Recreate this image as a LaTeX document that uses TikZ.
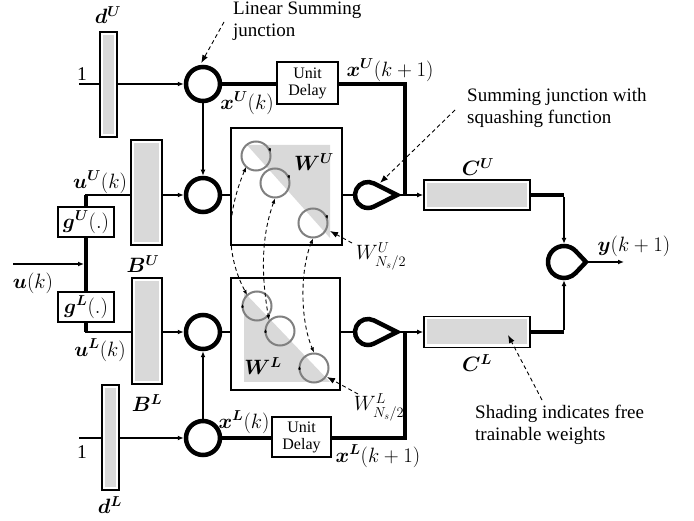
\documentclass[tikz,border=0pt]{standalone}
\usepackage{fontspec}
\setmainfont{Liberation Serif}
\usepackage{amsmath,bm}
\usetikzlibrary{arrows.meta,calc}
\definecolor{shadegray}{HTML}{D9D9D9}
\definecolor{ringgray}{HTML}{808080}
\newcommand\teardrop[5]{% name, center, r, d, theta
  \node[circle, minimum size=#3*2pt, inner sep=0pt] (#1) at (#2) {};
  \draw[bus, line join=miter] ($(#1)+(#4pt,0pt)$) -- ($(#1)+(#5:#3pt)$)
     arc[start angle=#5, end angle=360-#5, radius=#3pt] -- cycle;
  \coordinate (#1tip) at ($(#1)+(#4pt,0pt)$);
}
\begin{document}
\begin{tikzpicture}[x=1pt,y=-1pt,
  wire/.style={line width=1.5pt},
  bus/.style={line width=4.5pt},
  arr/.style={-{Latex[length=6pt,width=5pt]}},
  sumj/.style={circle, draw, line width=4.5pt, minimum size=34pt, inner sep=0pt},
  bar/.style={draw, line width=1.6pt, fill=white, inner sep=0pt,
    path picture={\fill[shadegray] ([shift={(3pt,-3pt)}]path picture bounding box.north west)
      rectangle ([shift={(-3pt,3pt)}]path picture bounding box.south east);}},
  gbox/.style={draw, line width=2pt, fill=white, minimum width=56pt, minimum height=30pt, inner sep=0pt,
    font=\fontsize{22}{24}\selectfont},
  delay/.style={draw, line width=2pt, fill=white, inner sep=0pt, align=center,
    font=\fontsize{16}{17}\selectfont},
  wbox/.style={draw, line width=2pt, inner sep=0pt},
  ring/.style={circle, draw=ringgray, line width=2pt, minimum size=29pt, inner sep=0pt},
  lbl/.style={inner sep=0pt, font=\fontsize{19.5}{22}\selectfont},
  note/.style={align=left, inner sep=0pt, font=\fontsize{19}{22}\selectfont},
  dashln/.style={dashed, line width=0.9pt, dash pattern=on 4pt off 3pt},
  noteArr/.style={dashed, line width=0.9pt, dash pattern=on 4pt off 3pt, -{Latex[length=8pt,width=6pt]}},
  tinyarr/.style={line width=0.5pt, -{Latex[length=3.5pt,width=3pt]}},
  twoway/.style={{Latex[length=5pt,width=4pt]}-{Latex[length=5pt,width=4pt]}},
]
\useasboundingbox (0,0) rectangle (694,521);

% ---------------- W boxes with shading and rings
\node[wbox, minimum width=111pt, minimum height=117pt] (WU) at (286.5,186.5) {};
\node[wbox, minimum width=109pt, minimum height=112pt] (WL) at (285.5,334) {};
\fill[shadegray] (247,145) -- (330,145) -- (330,238) -- cycle;
\fill[shadegray] (244,292) -- (244,382) -- (330,382) -- cycle;
\node[lbl] at (314,162) {$\bm{W}^{\bm{U}}$};
\node[lbl] at (263,366) {$\bm{W}^{\bm{L}}$};

\node[ring] (r1) at (256,156) {};
\node[ring] (r2) at (275,183) {};
\node[ring] (r3) at (313,223) {};
\node[ring] (q1) at (257,306) {};
\node[ring] (q2) at (280,331) {};
\node[ring] (q3) at (314,368) {};
\draw[tinyarr] ($(r1)+(13.5pt,8pt)$) -- ($(r1)+(14.5pt,4pt)$);
\draw[tinyarr] ($(r2)+(13.5pt,8pt)$) -- ($(r2)+(14.5pt,4pt)$);
\draw[tinyarr] ($(r3)+(13.5pt,8pt)$) -- ($(r3)+(14.5pt,4pt)$);
\draw[tinyarr] ($(q1)+(-14.5pt,-2pt)$) -- ($(q1)+(-14.5pt,2pt)$);
\draw[tinyarr] ($(q2)+(-14.5pt,-2pt)$) -- ($(q2)+(-14.5pt,2pt)$);
\draw[tinyarr] ($(q3)+(-14.5pt,-2pt)$) -- ($(q3)+(-14.5pt,2pt)$);

% dashed coupling arrows between rings
\draw[dashln, twoway]
  ([xshift=1pt]r1.south west) .. controls (226,215) and (226,255) .. ([xshift=1pt]q1.north west);
\draw[dashln, twoway]
  (r2.south) .. controls (260,240) and (262,280) .. (q2.north west);
\draw[dashln, twoway]
  (r3.south) .. controls (300,270) and (300,320) .. (q3.north);

% ---------------- bars
\node[bar, minimum width=17pt, minimum height=105pt] (dU) at (108.5,84.5) {};
\node[bar, minimum width=17pt, minimum height=105pt] (dL) at (110.5,437.5) {};
\node[bar, minimum width=31pt, minimum height=105pt] (BU) at (146.5,192.5) {};
\node[bar, minimum width=30pt, minimum height=106pt] (BL) at (147,331) {};
\node[bar, minimum width=106pt, minimum height=30pt] (CU) at (477,195) {};
\node[bar, minimum width=106pt, minimum height=31pt] (CL) at (477,332) {};

\node[lbl] at (108,15) {$\bm{d}^{\bm{U}}$};
\node[lbl] at (110,505) {$\bm{d}^{\bm{L}}$};
\node[lbl] at (143,264) {$\bm{B}^{\bm{U}}$};
\node[lbl] at (147,403) {$\bm{B}^{\bm{L}}$};
\node[lbl] at (478,167) {$\bm{C}^{\bm{U}}$};
\node[lbl] at (477,363) {$\bm{C}^{\bm{L}}$};

% ---------------- summing junctions
\node[sumj] (c1) at (203,84) {};
\node[sumj] (c2) at (203,195) {};
\node[sumj] (c3) at (203,332) {};
\node[sumj] (c4) at (203,438) {};
\teardrop{s1}{368,195}{13}{29}{63}
\teardrop{s2}{368,332}{13}{29}{63}
\teardrop{out}{564,262}{16}{22}{43}

% ---------------- delays and g boxes
\node[delay, minimum width=61pt, minimum height=42pt] (ud1) at (307.5,83) {Unit\\Delay};
\node[delay, minimum width=59pt, minimum height=40pt] (ud2) at (301.5,437) {Unit\\Delay};
\node[gbox] (gU) at (86,222) {$\bm{g}^{\bm{U}}(.)$};
\node[gbox] (gL) at (86,307) {$\bm{g}^{\bm{L}}(.)$};

% ---------------- coordinates
\coordinate (one1) at (79,84);
\coordinate (one2) at (79,438);
\coordinate (gUtop) at (86,195);
\coordinate (gLbot) at (86,332);
\coordinate (uin) at (13,264);
\coordinate (ujoin) at (86,264);
\coordinate (jU) at (405,195);
\coordinate (jL) at (405,332);
\coordinate (yout) at (624,262);

% ---------------- wires
\draw[wire] (one1) -- (dU.west |- one1);
\draw[wire, arr] (dU.east |- c1) -- (c1.west);
\draw[wire] (one2) -- (dL.west |- one2);
\draw[wire, arr] (dL.east |- c4) -- (c4.west);
\draw[wire, arr] (c1.south) -- (c2.north);
\draw[wire, arr] (c4.north) -- (c3.south);

\draw[bus] (gU.north) -- (gUtop);
\draw[bus] (gU.south) -- (gL.north);
\draw[bus] (gL.south) -- (gLbot);
\draw[wire] ([xshift=-1pt]gUtop) -- (gUtop -| BU.west);
\draw[wire] ([xshift=-1pt]gLbot) -- (gLbot -| BL.west);
\draw[wire, arr] (uin) -- ([xshift=-2pt]ujoin);
\draw[wire, arr] (BU.east |- c2) -- (c2.west);
\draw[wire, arr] (BL.east |- c3) -- (c3.west);

\draw[wire] (c2.east) -- (c2.east -| WU.west);
\draw[wire] (c3.east) -- (c3.east -| WL.west);
\draw[wire] (s1.west -| WU.east) -- (s1.west);
\draw[wire] (s2.west -| WL.east) -- (s2.west);

\draw[bus] (c1.east) -- (ud1.west |- c1);
\draw[bus] (c4.east) -- (ud2.west |- c4);
\draw[bus, line join=miter] (ud1.east |- c1) -| (jU);
\draw[bus, line join=miter] (ud2.east |- c4) -| (jL);
\draw[wire, arr] (s1tip) -- (CU.west);
\draw[wire, arr] (s2tip) -- (CL.west);

\draw[bus, line join=miter] (CU.east) -- (CU.east -| out);
\draw[wire, arr] ([yshift=-2pt]CU.east -| out) -- ([yshift=2pt]out.north);
\draw[bus, line join=miter] (CL.east) -- (CL.east -| out);
\draw[wire, arr] ([yshift=2pt]CL.east -| out) -- ([yshift=-2pt]out.south);
\draw[wire, arr] (outtip) -- (yout);

% ---------------- labels
\node[lbl] at (82,74) {1};
\node[lbl] at (82,452) {1};
\node[lbl] at (247,103) {$\bm{x}^{\bm{U}}(k)$};
\node[lbl] at (390,70) {$\bm{x}^{\bm{U}}(k+1)$};
\node[lbl] at (244,422) {$\bm{x}^{\bm{L}}(k)$};
\node[lbl] at (378,456) {$\bm{x}^{\bm{L}}(k+1)$};
\node[lbl] at (100,182) {$\bm{u}^{\bm{U}}(k)$};
\node[lbl] at (100,350) {$\bm{u}^{\bm{L}}(k)$};
\node[lbl] at (33,283) {$\bm{u}(k)$};
\node[lbl] at (634,246) {$\bm{y}(k+1)$};
\node[lbl] (wun) at (381,256) {$W^{U}_{N_s/2}$};
\node[lbl] (wln) at (379,407) {$W^{L}_{N_s/2}$};

% ---------------- annotations
\node[note, anchor=north west] (lsj) at (233,2) {Linear Summing\\junction};
\node[note, anchor=north west] (sjs) at (467,88) {Summing junction with\\squashing function};
\node[note, anchor=north west] (shd) at (475,405) {Shading indicates free\\trainable weights};
\coordinate (lsjfrom) at (224,22);
\coordinate (sjsfrom) at (455,110);
\coordinate (shdfrom) at (542,400);
\coordinate (wunfrom) at (352,243);
\coordinate (wlnfrom) at (358,394);
\draw[noteArr] (lsjfrom) -- ($(c1)+(95:21pt)$);
\draw[noteArr] (sjsfrom) -- ($(s1)+(45:17pt)$);
\draw[noteArr] (shdfrom) -- (508,335);
\draw[noteArr] (wunfrom) -- (330,231);
\draw[noteArr] (wlnfrom) -- (327,377);
\end{tikzpicture}
\end{document}
